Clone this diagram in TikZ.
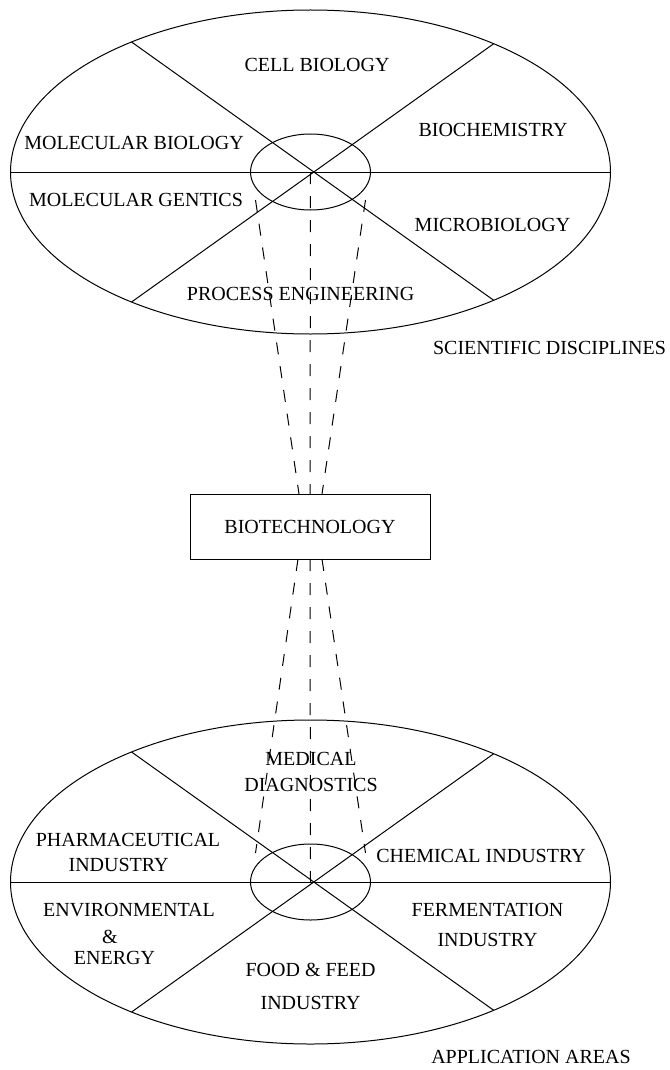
\documentclass[tikz,border=0pt]{standalone}
\usepackage{fontspec}
\setmainfont{Liberation Serif}
\usetikzlibrary{shapes.geometric}

\begin{document}
\begin{tikzpicture}[
  x=0.5pt, y=-0.5pt,
  line width=0.5pt,
  field/.style={
    draw,
    ellipse,
    inner sep=0pt,
    outer sep=0pt,
    minimum width=300pt,
    minimum height=162pt
  },
  core/.style={
    draw,
    ellipse,
    inner sep=0pt,
    outer sep=0pt,
    minimum width=60pt,
    minimum height=38pt
  },
  box/.style={
    draw,
    inner sep=0pt,
    outer sep=0pt,
    minimum width=120pt,
    minimum height=32.5pt,
    font=\fontsize{10}{12}\selectfont
  },
  lbl/.style={inner sep=0pt, align=center, font=\fontsize{10}{12}\selectfont},
  link/.style={dash pattern=on 6pt off 6pt}
]
\useasboundingbox (0,0) rectangle (669,1070);

% scientific disciplines
\node[field] (sci) at (310.5,172) {};
\node[core] (scicore) at (310.5,172) {};
\draw (sci.west) -- (sci.east);
\draw (sci.144.3) -- (sci.-35.7);
\draw (sci.35.7) -- (sci.-144.3);

\node[lbl] (cell) at (317,65) {CELL BIOLOGY};
\node[lbl] (biochem) at (493,130) {BIOCHEMISTRY};
\node[lbl] (molbio) at (134,143) {MOLECULAR BIOLOGY};
\node[lbl] (molgen) at (136,199.5) {MOLECULAR GENTICS};
\node[lbl] (micro) at (492.5,225) {MICROBIOLOGY};
\node[lbl] (proc) at (300.6,294) {PROCESS ENGINEERING};
\node[lbl] (scilbl) at (549.5,348) {SCIENTIFIC DISCIPLINES};

% biotechnology
\node[box] (bio) at (310,526.5) {BIOTECHNOLOGY};

% application areas
\node[field] (app) at (310.5,882) {};
\node[core] (appcore) at (310.5,882) {};
\draw (app.west) -- (app.east);
\draw (app.144.3) -- (app.-35.7);
\draw (app.35.7) -- (app.-144.3);

\node[lbl] (med) at (311,772) {MEDICAL\\[0.75pt]DIAGNOSTICS};
\node[lbl] (pharma) at (128,839.5) {PHARMACEUTICAL};
\node[lbl] (pharmaind) at (118.6,865) {INDUSTRY};
\node[lbl] (chem) at (481,855.5) {CHEMICAL INDUSTRY};
\node[lbl] (env) at (129,910) {ENVIRONMENTAL};
\node[lbl] (envand) at (110,937) {\&};
\node[lbl] (energy) at (114.5,958) {ENERGY};
\node[lbl] (ferm) at (487.5,925) {FERMENTATION\\[3pt]INDUSTRY};
\node[lbl] (food) at (310.6,986) {FOOD \& FEED\\[4.5pt]INDUSTRY};
\node[lbl] (applbl) at (531,1057) {APPLICATION AREAS};

% dashed links through the box
\coordinate (sl) at ([xshift=-27.5pt,yshift=-14pt]sci.center);
\coordinate (sr) at ([xshift=27.5pt,yshift=-14pt]sci.center);
\coordinate (al) at ([xshift=-27.5pt,yshift=14.5pt]app.center);
\coordinate (ar) at ([xshift=27.5pt,yshift=14.5pt]app.center);
\coordinate (btl) at ([xshift=-5.5pt]bio.north);
\coordinate (btr) at ([xshift=6pt]bio.north);
\coordinate (bbl) at ([xshift=-6pt]bio.south);
\coordinate (bbr) at ([xshift=6pt]bio.south);

\draw[link] (sci.center) -- (bio.north);
\draw[link] (sl) -- (btl);
\draw[link] (sr) -- (btr);
\draw[link] (bio.south) -- (app.center);
\draw[link] (bbl) -- (al);
\draw[link] (bbr) -- (ar);

\end{tikzpicture}
\end{document}
